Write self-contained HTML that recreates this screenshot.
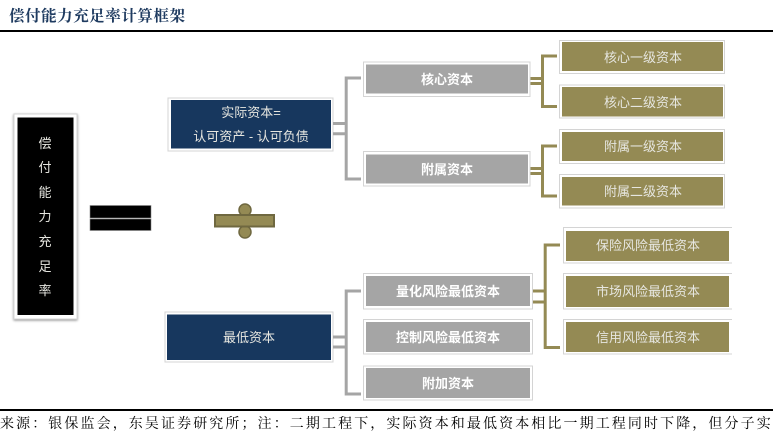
<!DOCTYPE html>
<html lang="zh">
<head>
<meta charset="utf-8">
<title>偿付能力充足率计算框架</title>
<style>
html,body{margin:0;padding:0;background:#fff;}
body{width:773px;height:432px;overflow:hidden;position:relative;}
svg{position:absolute;left:0;top:0;}
text{font-family:"Liberation Sans","Noto Sans CJK SC",sans-serif;text-anchor:middle;}
.t{font-size:13px;fill:#e6e6e0;}
.b{font-size:13px;font-weight:700;fill:#fff;}
.h{font-family:"Liberation Serif","Noto Serif CJK SC",serif;font-size:15.5px;font-weight:700;fill:#1f3b60;text-anchor:start;letter-spacing:.55px;}
.f{font-family:"Liberation Serif","Noto Serif CJK SC",serif;font-size:14px;fill:#000;text-anchor:start;letter-spacing:2.1px;}
.o{fill:#fff;stroke:#d4d4d4;stroke-width:1;}
.g{fill:#a5a5a5;}
.y{fill:#948a54;}
.n{fill:#17375e;}
.lg{fill:none;stroke:#a5a5a5;stroke-width:3;}
.ly{fill:none;stroke:#948a54;stroke-width:3;}
</style>
</head>
<body>
<svg width="773" height="432" viewBox="0 0 773 432" xmlns="http://www.w3.org/2000/svg">
<defs>
<filter id="s" x="-20%" y="-10%" width="140%" height="120%"><feDropShadow dx="0" dy="1" stdDeviation="1.2" flood-color="#000" flood-opacity=".45"/></filter>
</defs>

<text class="h" x="9" y="21">偿付能力充足率计算框架</text>
<rect x="0" y="30" width="773" height="2" fill="#000"/>

<!-- left column -->
<rect x="14" y="114" width="63" height="205" fill="#fff" stroke="#d5d5d5" filter="url(#s)"/>
<rect x="17.5" y="117.5" width="56" height="197.5" fill="#000"/>
<text class="t" x="45" y="148">偿</text>
<text class="t" x="45" y="172">付</text>
<text class="t" x="45" y="197">能</text>
<text class="t" x="45" y="221">力</text>
<text class="t" x="45" y="246">充</text>
<text class="t" x="45" y="271">足</text>
<text class="t" x="45" y="295">率</text>

<!-- equals -->
<rect x="90" y="205.500" width="61" height="12.500" fill="#000" stroke="#888" stroke-width=".6"/>
<rect x="90" y="219" width="61" height="11.500" fill="#000" stroke="#888" stroke-width=".6"/>

<!-- divide -->
<circle cx="245" cy="210" r="6" fill="#948a54" stroke="#6f6840" stroke-width="1.500"/>
<circle cx="245" cy="232" r="6" fill="#948a54" stroke="#6f6840" stroke-width="1.500"/>
<rect x="215" y="215" width="59" height="11.500" fill="#948a54" stroke="#6f6840" stroke-width="2"/>

<!-- navy boxes -->
<rect class="o" x="168" y="98" width="165" height="53"/>
<rect class="n" x="171" y="100" width="160" height="48.500"/>
<text class="t" x="251" y="117">实际资本=</text>
<text class="t" x="251" y="141">认可资产 - 认可负债</text>

<rect class="o" x="165" y="312" width="168" height="50"/>
<rect class="n" x="167" y="314.500" width="164" height="45.500"/>
<text class="t" x="249" y="342">最低资本</text>

<!-- grey connectors -->
<path class="lg" d="M361 78H346.200V179H361"/>
<path class="lg" d="M333 123.500H346M333 133.700H346"/>
<path class="lg" d="M361 291H346.200V394H361"/>
<path class="lg" d="M333 337H346M333 347H346"/>

<!-- gold connectors -->
<path class="ly" d="M557 56H542.500V106.500H557"/>
<path class="ly" d="M530 78.500H542M530 83.500H542"/>
<path class="ly" d="M557 146H542.500V196H557"/>
<path class="ly" d="M530 168.500H542M530 173.500H542"/>
<path class="ly" d="M560 245H545.200V347.500H560"/>
<path class="ly" d="M533 291H545M533 302H545"/>

<!-- grey boxes -->
<rect class="o" x="363.500" y="62" width="166.500" height="34.500"/>
<rect class="g" x="366" y="64.500" width="162" height="29"/>
<text class="b" x="447" y="84">核心资本</text>

<rect class="o" x="363.500" y="151.500" width="166.500" height="34.500"/>
<rect class="g" x="366" y="154.500" width="162" height="29"/>
<text class="b" x="447" y="174">附属资本</text>

<rect class="o" x="363.500" y="273.500" width="169" height="35.500"/>
<rect class="g" x="366" y="276" width="164" height="30"/>
<text class="b" x="448" y="296">量化风险最低资本</text>

<rect class="o" x="363.500" y="319.500" width="169" height="34.500"/>
<rect class="g" x="366" y="322" width="164" height="30"/>
<text class="b" x="448" y="342">控制风险最低资本</text>

<rect class="o" x="363.500" y="366" width="169" height="34"/>
<rect class="g" x="366" y="368" width="164" height="30"/>
<text class="b" x="448" y="388">附加资本</text>

<!-- gold boxes upper -->
<rect class="o" x="559.500" y="40.500" width="165" height="33"/>
<rect class="y" x="562" y="42" width="161" height="29"/>
<text class="t" x="643" y="62">核心一级资本</text>

<rect class="o" x="559.500" y="85" width="165" height="33"/>
<rect class="y" x="562" y="87" width="161" height="29.500"/>
<text class="t" x="643" y="107">核心二级资本</text>

<rect class="o" x="559.500" y="129.500" width="165" height="34"/>
<rect class="y" x="562" y="132" width="161" height="29"/>
<text class="t" x="643" y="151">附属一级资本</text>

<rect class="o" x="559.500" y="174.500" width="165" height="33.500"/>
<rect class="y" x="562" y="177" width="161" height="28.500"/>
<text class="t" x="643" y="196">附属二级资本</text>

<!-- gold boxes lower: right edge has no border -->
<path class="o" d="M732 227.500H563.500V263H732"/>
<rect class="y" x="566" y="231" width="163" height="30"/>
<text class="t" x="648" y="250">保险风险最低资本</text>

<path class="o" d="M732 273.500H563.500V309H732"/>
<rect class="y" x="566" y="276" width="163" height="31"/>
<text class="t" x="648" y="296">市场风险最低资本</text>

<path class="o" d="M732 319.500H563.500V354H732"/>
<rect class="y" x="566" y="322" width="163" height="30"/>
<text class="t" x="648" y="342">信用风险最低资本</text>

<!-- footer -->
<rect x="0" y="409" width="773" height="2" fill="#000"/>
<text class="f" x="0" y="428">来源：银保监会，东吴证券研究所；注：二期工程下，实际资本和最低资本相比一期工程同时下降，但分子实</text>
</svg>
</body>
</html>
